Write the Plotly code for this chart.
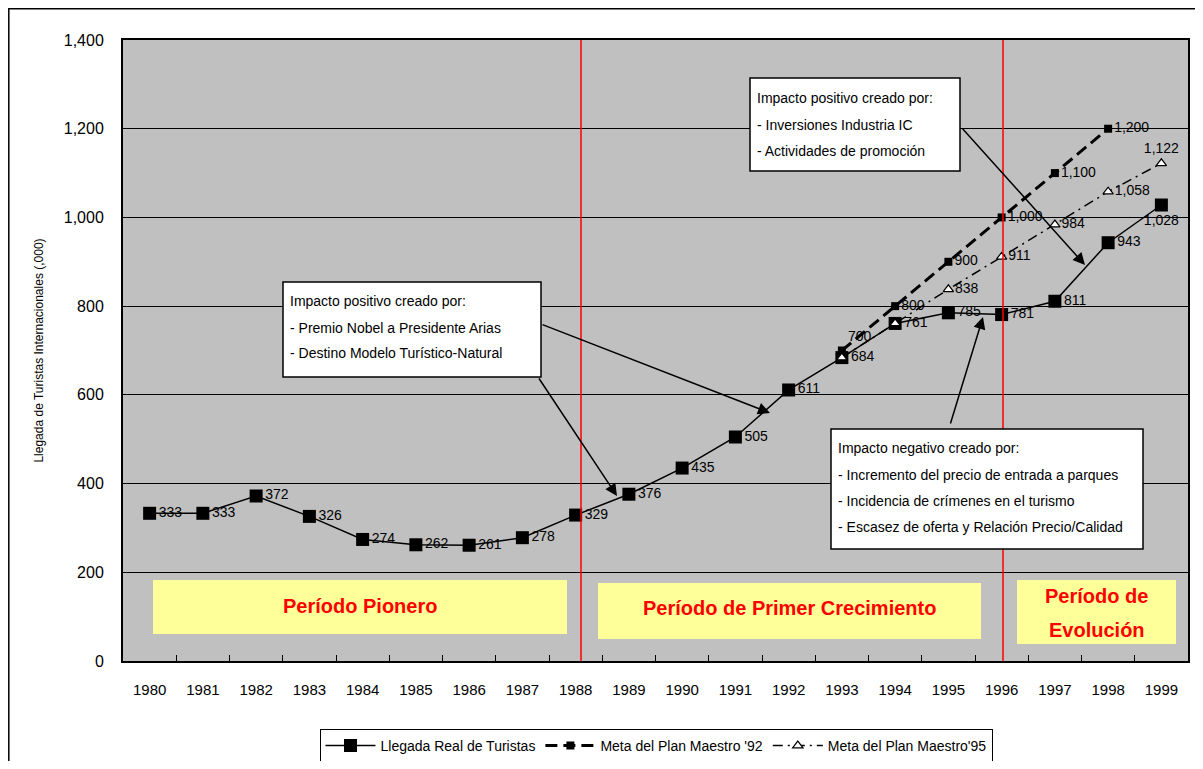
import plotly.graph_objects as go

# Datos del grafico
anios = [str(a) for a in range(1980, 2000)]
llegada_real = [333, 333, 372, 326, 274, 262, 261, 278, 329, 376,
                435, 505, 611, 684, 761, 785, 781, 811, 943, 1028]
anios_meta = ["1993", "1994", "1995", "1996", "1997", "1998", "1999"]
meta_92 = [700, 800, 900, 1000, 1100, 1200, None]
meta_95 = [684, 761, 838, 911, 984, 1058, 1122]

FUENTE = "Liberation Sans Narrow, Arial Narrow, Liberation Sans, sans-serif"

# la pagina deja 8px de margen en el body: compensamos
OFF = 8
W, H = 1203 - OFF, 769 - 2 * OFF
# area de trazado en pixeles de la pagina
L, R, T, B = 123, 1188, 40, 661


def px(x):
    return (x - L) / (R - L)


def py(y):
    return (B - y) / (B - T)


# etiquetas: no repetir las de la meta '95 que caen sobre la llegada real
real_por_anio = dict(zip(anios, llegada_real))
txt_95 = ["" if real_por_anio[a] == v else f"{v:,}" for a, v in zip(anios_meta, meta_95)]
txt_92 = [f"{v:,}" if v is not None else "" for v in meta_92]
pos_92 = ["top right"] + ["middle right"] * 6
# el ultimo anio no cabe a la derecha
pos_real = ["middle right"] * (len(anios) - 1) + ["bottom center"]
pos_95 = ["middle right"] * (len(anios_meta) - 1) + ["top center"]

fig = go.Figure()

fig.add_trace(go.Scatter(
    x=anios, y=llegada_real,
    mode="lines+markers+text",
    name="Llegada Real de Turistas",
    line=dict(color="black", width=1.5),
    marker=dict(symbol="square", size=13, color="black"),
    text=[f"{v:,}" for v in llegada_real],
    textposition=pos_real, cliponaxis=False,
    textfont=dict(family=FUENTE, size=14, color="black"),
))

fig.add_trace(go.Scatter(
    x=anios_meta, y=meta_92,
    mode="lines+markers+text",
    name="Meta del Plan Maestro '92",
    line=dict(color="black", width=3, dash="12px,6px"),
    marker=dict(symbol="square", size=8, color="black"),
    text=txt_92, textposition=pos_92, cliponaxis=False,
    textfont=dict(family=FUENTE, size=14, color="black"),
))

fig.add_trace(go.Scatter(
    x=anios_meta, y=meta_95,
    mode="lines+markers+text",
    name="Meta del Plan Maestro'95",
    line=dict(color="black", width=1.5, dash="10px,5px,2px,5px"),
    marker=dict(symbol="triangle-up", size=9, color="white",
                line=dict(color="black", width=1.2)),
    text=txt_95, textposition=pos_95, cliponaxis=False,
    textfont=dict(family=FUENTE, size=14, color="black"),
))

shapes = []
annotations = []

# borde exterior
shapes.append(dict(type="rect", xref="paper", yref="paper",
                   x0=px(OFF + 0.8), x1=px(1198), y0=py(790), y1=py(OFF + 0.8),
                   line=dict(color="black", width=1.5), layer="below"))

# lineas rojas de separacion de periodos
for xr in [581, 1003]:
    shapes.append(dict(type="line", xref="paper", yref="paper",
                       x0=px(xr), x1=px(xr), y0=0, y1=1,
                       line=dict(color="red", width=1.5)))

# cajas de periodos
periodos = [
    ((153, 567, 580, 634), ["Período Pionero"], [606]),
    ((598, 981, 583, 639), ["Período de Primer Crecimiento"], [608]),
    ((1017, 1176, 580, 644), ["Período de", "Evolución"], [596, 630]),
]
for (x0, x1, y0, y1), lineas, ys in periodos:
    shapes.append(dict(type="rect", xref="paper", yref="paper",
                       x0=px(x0), x1=px(x1), y0=py(y1), y1=py(y0),
                       fillcolor="#FFFF99", line=dict(width=0)))
    for txt, yy in zip(lineas, ys):
        annotations.append(dict(xref="paper", yref="paper",
                                x=px((x0 + x1) / 2), y=py(yy),
                                text="<b>" + txt + "</b>", showarrow=False,
                                xanchor="center", yanchor="middle",
                                font=dict(family=FUENTE, size=20, color="red")))

# cajas de comentarios
cajas = [
    ((750, 960, 78, 171), 755, [98, 125, 151],
     ["Impacto positivo creado por:", "- Inversiones Industria IC",
      "- Actividades de promoción"]),
    ((283, 541, 282, 377), 288, [301, 328, 353],
     ["Impacto positivo creado por:", "- Premio Nobel a Presidente Arias",
      "- Destino Modelo Turístico-Natural"]),
    ((831, 1143, 429, 549), 836, [448, 475, 501, 527],
     ["Impacto negativo creado por:", "- Incremento del precio de entrada a parques",
      "- Incidencia de crímenes en el turismo",
      "- Escasez de oferta y Relación Precio/Calidad"]),
]
for (x0, x1, y0, y1), xt, ys, lineas in cajas:
    shapes.append(dict(type="rect", xref="paper", yref="paper",
                       x0=px(x0), x1=px(x1), y0=py(y1), y1=py(y0),
                       fillcolor="white", line=dict(color="black", width=1.5)))
    for txt, yy in zip(lineas, ys):
        annotations.append(dict(xref="paper", yref="paper", x=px(xt), y=py(yy),
                                text=txt, showarrow=False,
                                xanchor="left", yanchor="middle",
                                font=dict(family=FUENTE, size=14, color="black")))

# flechas (cola -> punta, en pixeles)
flechas = [
    ((541, 324), (770, 413)),
    ((538, 377), (617, 496)),
    ((961, 127), (1085, 265)),
    ((950, 425), (983, 317)),
]
for (tx, ty), (hx, hy) in flechas:
    annotations.append(dict(xref="paper", yref="paper", x=px(hx), y=py(hy),
                            axref="pixel", ayref="pixel",
                            ax=tx - hx, ay=ty - hy, text="", showarrow=True,
                            arrowhead=2, arrowsize=1.6, arrowwidth=1.5,
                            arrowcolor="black"))

fig.update_layout(
    width=W, height=H,
    margin=dict(l=L - OFF, r=W + OFF - R, t=T - OFF, b=H + OFF - B),
    paper_bgcolor="white",
    plot_bgcolor="#C0C0C0",
    font=dict(family=FUENTE, size=14, color="black"),
    showlegend=True,
    legend=dict(orientation="h", xref="container", yref="container",
                x=(656 - OFF) / W, y=1 - (729 - OFF) / H,
                xanchor="center", yanchor="top", itemwidth=50,
                bordercolor="black", borderwidth=1, bgcolor="white",
                font=dict(family=FUENTE, size=14)),
    shapes=shapes,
    annotations=annotations,
)

fig.update_xaxes(type="category", range=[-0.5, len(anios) - 0.5],
                 tickson="boundaries", ticks="inside",
                 ticklen=6, tickcolor="black", showgrid=False, automargin=False,
                 showline=True, linecolor="black", linewidth=2, mirror=True,
                 tickfont=dict(family=FUENTE, size=15), ticklabelstandoff=14)
fig.update_yaxes(range=[0, 1400], dtick=200, tickformat=",", automargin=False,
                 showgrid=True, gridcolor="black", gridwidth=1,
                 showline=True, linecolor="black", linewidth=2, mirror=True,
                 zeroline=False, ticks="",
                 tickfont=dict(family=FUENTE, size=16), ticklabelstandoff=14,
                 title=dict(text="Llegada de Turistas Internacionales (,000)",
                            font=dict(family=FUENTE, size=12), standoff=18))

fig.write_html("out.html")
